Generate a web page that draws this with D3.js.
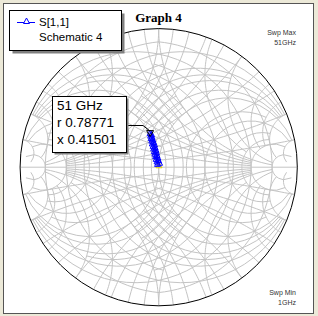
<!DOCTYPE html>
<html>
<head>
<meta charset="utf-8">
<script src="https://cdn.jsdelivr.net/npm/d3@7"></script>
<style>
  body { margin: 0; background: #ece9d8; }
  svg { display: block; }
  text { font-family: Arial, "Liberation Sans", sans-serif; }
</style>
</head>
<body>
<div id="chart"></div>
<script>
// Smith chart, S[1,1] sweep 1..51 GHz

const freqs = [1, 3, 5, 7, 9, 11, 13, 15, 17, 19, 21, 23, 25, 27, 29, 31, 33, 35, 37, 39, 41, 43, 45, 47, 49, 51];
const gammaRe = [0.002, -0.008, 0.006, -0.012, -0.002, -0.018, -0.006, -0.022, -0.012, -0.028, -0.016, -0.032, -0.020, -0.036, -0.026, -0.040, -0.030, -0.046, -0.036, -0.050, -0.042, -0.054, -0.048, -0.058, -0.052, -0.062];
const gammaIm = [0.014, 0.024, 0.032, 0.042, 0.052, 0.060, 0.070, 0.080, 0.088, 0.098, 0.108, 0.116, 0.126, 0.136, 0.144, 0.154, 0.164, 0.172, 0.182, 0.192, 0.200, 0.210, 0.220, 0.228, 0.238, 0.246];

// grid values: [value, extent of the crossing parameter]
const rGrid = [[0.1, 1], [0.2, 5], [0.3, 1], [0.4, 5], [0.5, 2], [0.6, 5], [0.7, 1], [0.8, 5], [0.9, 1], [1.0, 10],
               [1.5, 4], [2, 10], [3, 5], [4, 5], [5, 10], [10, 20]];
const xGrid = [[0.1, 1], [0.2, 5], [0.3, 1], [0.4, 5], [0.5, 2], [0.6, 5], [0.7, 1], [0.8, 5], [0.9, 1], [1.0, 10],
               [1.5, 4], [2, 10], [3, 5], [4, 5], [5, 10], [10, 20]];

const markerLines = ['51 GHz', 'r 0.78771', 'x 0.41501'];
const legendLines = ['S[1,1]', 'Schematic 4'];

const W = 318, H = 316;
const cx = 158.7, cy = 167.2, R = 138.6;

const svg = d3.select('#chart').append('svg').attr('width', W).attr('height', H);

svg.append('rect').attr('x', 3.5).attr('y', 3.5).attr('width', 310).attr('height', 310)
    .attr('fill', '#fff').attr('stroke', '#555');

const x = d3.scaleLinear().domain([-1, 1]).range([cx - R, cx + R]);
const y = d3.scaleLinear().domain([-1, 1]).range([cy + R, cy - R]);

function gam(r, xv) {
    const d = (r + 1) * (r + 1) + xv * xv;
    return [(r * r - 1 + xv * xv) / d, 2 * xv / d];
}

const line = d3.line().x(d => x(d[0])).y(d => y(d[1]));

// sample a segment of constant r (vary x) or constant x (vary r)
function rSegment(r, x0, x1, sign) {
    const a0 = Math.atan(x0), a1 = Math.atan(x1);
    return d3.range(61).map(i => {
        const t = a0 + (a1 - a0) * i / 60;
        const g = gam(r, Math.tan(t));
        return [g[0] * sign, g[1] * sign];
    });
}
function xSegment(xv, r0, r1, sign) {
    const a0 = Math.atan(r0), a1 = Math.atan(r1);
    return d3.range(61).map(i => {
        const t = a0 + (a1 - a0) * i / 60;
        const g = gam(Math.tan(t), xv);
        return [g[0] * sign, g[1] * sign];
    });
}

const grid = svg.append('g').attr('fill', 'none').attr('stroke', '#c4c4c4').attr('stroke-width', 1);
const segs = [];
[1, -1].forEach(sign => {
    rGrid.forEach(([r, ext]) => segs.push(rSegment(r, -ext, ext, sign)));
    xGrid.forEach(([xv, ext]) => {
        segs.push(xSegment(xv, 0, ext, sign));
        segs.push(xSegment(-xv, 0, ext, sign));
    });
});
grid.selectAll('path').data(segs).enter().append('path').attr('d', line);
grid.append('line').attr('x1', x(-1)).attr('x2', x(1)).attr('y1', y(0)).attr('y2', y(0));

svg.append('circle').attr('cx', x(0)).attr('cy', y(0)).attr('r', x(1) - x(0))
    .attr('fill', 'none').attr('stroke', '#000').attr('stroke-width', 1);

// trace
const pts = freqs.map((f, i) => ({ f, re: gammaRe[i], im: gammaIm[i] }));
svg.append('path').datum(pts).attr('fill', 'none').attr('stroke', '#0000ff').attr('stroke-width', 1)
    .attr('d', d3.line().x(d => x(d.re)).y(d => y(d.im)));

const tri = 'M0,-3L3,2.5L-3,2.5Z';
svg.selectAll('path.mk').data(pts).enter().append('path').attr('class', 'mk')
    .attr('transform', d => `translate(${x(d.re)},${y(d.im)})`)
    .attr('d', tri).attr('fill', 'none')
    .attr('stroke', (d, i) => i === 0 ? '#e0d000' : '#0000ff').attr('stroke-width', 1);

// marker at 51 GHz
const last = pts[pts.length - 1];
svg.append('path').attr('transform', `translate(${x(last.re)},${y(last.im)})`)
    .attr('d', 'M-3.5,-2.5L3.5,-2.5L0,3.5Z').attr('fill', 'none').attr('stroke', '#000').attr('stroke-width', 1);

svg.append('polyline').attr('points', `126,125.5 143,125.5 ${x(last.re)},${y(last.im) - 2}`)
    .attr('fill', 'none').attr('stroke', '#000');

const mb = svg.append('g');
mb.append('rect').attr('x', 54.5).attr('y', 98.5).attr('width', 74).attr('height', 56).attr('fill', '#808080');
mb.append('rect').attr('x', 52.5).attr('y', 96.5).attr('width', 74).attr('height', 56)
    .attr('fill', '#fff').attr('stroke', '#000');
mb.selectAll('text').data(markerLines).enter().append('text')
    .attr('x', 57).attr('y', (d, i) => 110 + i * 17)
    .style('font-size', '13.5px').style('fill', '#000').text(d => d);

// legend
const lg = svg.append('g');
lg.append('rect').attr('x', 12.5).attr('y', 13.5).attr('width', 112).attr('height', 40).attr('fill', '#808080');
lg.append('rect').attr('x', 9.5).attr('y', 10.5).attr('width', 112).attr('height', 40)
    .attr('fill', '#fff').attr('stroke', '#000');
lg.append('line').attr('x1', 17).attr('x2', 35).attr('y1', 22.5).attr('y2', 22.5).attr('stroke', '#0000ff');
lg.append('path').attr('transform', 'translate(26.5,21)').attr('d', tri).attr('fill', '#fff').attr('stroke', '#0000ff');
lg.selectAll('text').data(legendLines).enter().append('text')
    .attr('x', 39).attr('y', (d, i) => 26 + i * 15)
    .style('font-size', '11.5px').style('fill', '#000').text(d => d);

// title
svg.append('text').attr('x', 158.5).attr('y', 21.5).attr('text-anchor', 'middle')
    .style('font-family', '"Liberation Serif", "Times New Roman", serif').style('font-weight', 'bold')
    .style('font-size', '13px').text('Graph 4');

// sweep notes
const notes = [['Swp Max', 35], ['51GHz', 45], ['Swp Min', 295], ['1GHz', 305]];
svg.selectAll('text.note').data(notes).enter().append('text').attr('class', 'note')
    .attr('x', 296).attr('y', d => d[1]).attr('text-anchor', 'end')
    .style('font-size', '7px').style('fill', '#333').text(d => d[0]);
</script>
</body>
</html>
